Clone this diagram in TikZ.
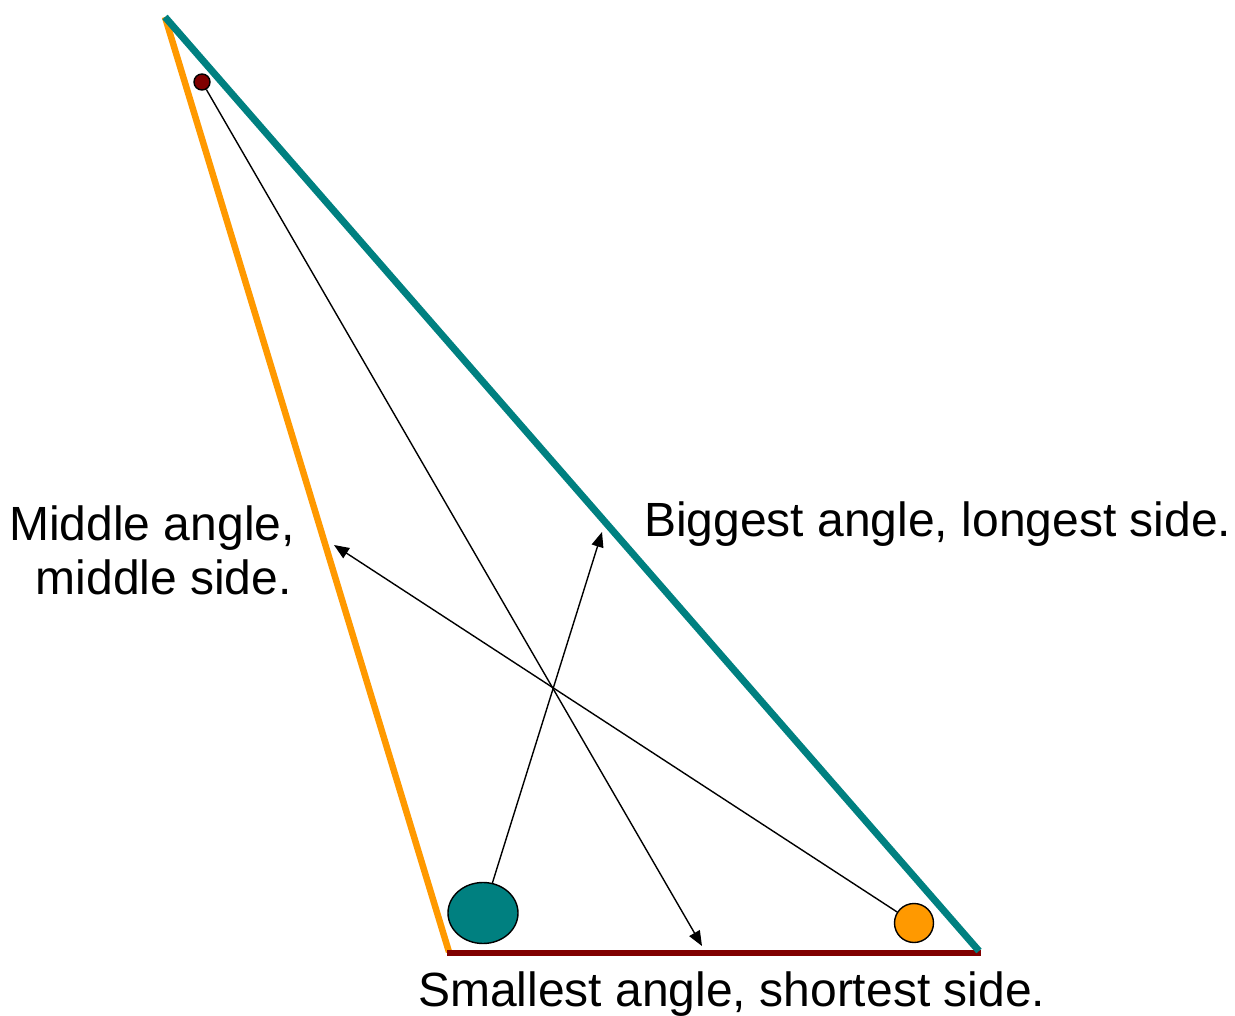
\documentclass[tikz,border=0pt]{standalone}
\usepackage{fontspec}
\setmainfont{Liberation Sans}
\usetikzlibrary{shapes.geometric,arrows.meta}
\definecolor{tealc}{RGB}{0,128,128}
\definecolor{orangec}{RGB}{255,153,0}
\definecolor{darkredc}{RGB}{128,0,0}
\begin{document}
\begin{tikzpicture}[x=1pt,y=-1pt,
  side/.style={line width=6.5pt},
  pointer/.style={line width=1.4pt,-{Triangle[length=15pt,width=12pt]}},
  lbl/.style={inner sep=0pt,font=\fontsize{48}{55}\selectfont}]
\useasboundingbox (0,0) rectangle (1235,1016);
% vertices
\coordinate (A) at (165,17);
\coordinate (B) at (449,952);
\coordinate (C) at (979,951);
\coordinate (BL) at (447,953);
\coordinate (BR) at (981,953);
% sides
\draw[side,orangec] (A) -- (B);
\draw[side,darkredc] (BL) -- (BR);
\draw[side,tealc,line width=7pt] (A) -- (C);
% angle markers
\node[circle,draw=black,fill=darkredc,line width=1.4pt,minimum size=16pt,inner sep=0pt] (dot) at (202,82) {};
\node[ellipse,draw=black,fill=tealc,line width=1.4pt,minimum width=70pt,minimum height=61pt,inner sep=0pt] (ell) at (483,913) {};
\node[circle,draw=black,fill=orangec,line width=1.4pt,minimum size=39pt,inner sep=0pt] (orc) at (914,923) {};
% arrow tips on sides
\coordinate (tipS) at (702,946);
\coordinate (tipL) at (602,532);
\coordinate (tipM) at (334,545);
\draw[pointer] (dot) -- (tipS);
\draw[pointer] (ell) -- (tipL);
\draw[pointer] (orc) -- (tipM);
% labels
\node[lbl,anchor=base east] (m1) at (295,540) {Middle angle,};
\node[lbl,anchor=base east] (m2) at (292,594) {middle side.};
\node[lbl,anchor=base west] (big) at (644,536) {Biggest angle, longest side.};
\node[lbl,anchor=base west] (small) at (418,1006) {Smallest angle, shortest side.};
\end{tikzpicture}
\end{document}
